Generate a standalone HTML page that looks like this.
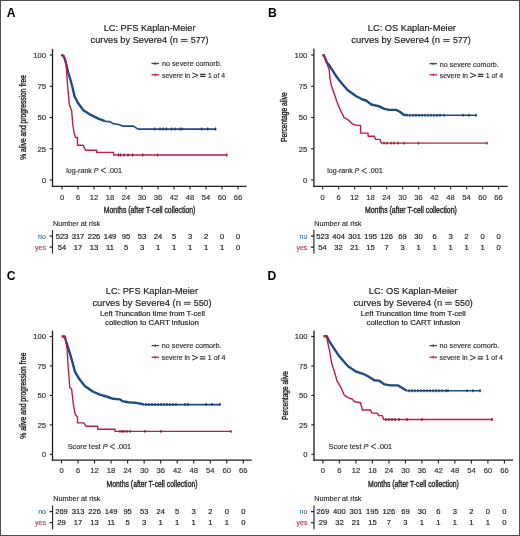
<!DOCTYPE html>
<html><head><meta charset="utf-8"><style>
html,body{margin:0;padding:0;background:#fff;}
body{width:520px;height:536px;overflow:hidden;}
svg{display:block;font-family:"Liberation Sans", sans-serif;will-change:transform;}
</style></head><body>
<svg width="520" height="536" viewBox="0 0 520 536">
<rect x="0" y="0" width="520" height="536" fill="#fff"/>
<text x="6.80" y="16.60" font-size="12.2" text-anchor="start" fill="#000" font-weight="bold">A</text>
<text x="149.62" y="31.40" font-size="9.4" text-anchor="middle" fill="#222" font-weight="normal" textLength="91.75" lengthAdjust="spacingAndGlyphs" stroke="#222" stroke-width="0.18">LC: PFS Kaplan-Meier</text>
<text x="90.60" y="43.00" font-size="9.4" text-anchor="start" fill="#222" font-weight="normal" textLength="87.30" lengthAdjust="spacingAndGlyphs" stroke="#222" stroke-width="0.18">curves by Severe4 (n</text>
<path d="M180.90,39.55 H187.50 M180.90,41.40 H187.50" stroke="#2a2a2a" stroke-width="0.9" fill="none"/>
<text x="190.70" y="43.00" font-size="9.4" text-anchor="start" fill="#222" font-weight="normal" textLength="17.80" lengthAdjust="spacingAndGlyphs" stroke="#222" stroke-width="0.18">577)</text>
<line x1="52.50" y1="48.80" x2="52.50" y2="186.90" stroke="#1e1e1e" stroke-width="1.3"/>
<line x1="51.90" y1="186.30" x2="246.50" y2="186.30" stroke="#1e1e1e" stroke-width="1.3"/>
<line x1="49.70" y1="180.00" x2="52.50" y2="180.00" stroke="#1e1e1e" stroke-width="1.1"/>
<text x="46.00" y="182.75" font-size="7.7" text-anchor="end" fill="#333" font-weight="normal" stroke="#333" stroke-width="0.18">0</text>
<line x1="49.70" y1="148.75" x2="52.50" y2="148.75" stroke="#1e1e1e" stroke-width="1.1"/>
<text x="46.00" y="151.50" font-size="7.7" text-anchor="end" fill="#333" font-weight="normal" stroke="#333" stroke-width="0.18">25</text>
<line x1="49.70" y1="117.50" x2="52.50" y2="117.50" stroke="#1e1e1e" stroke-width="1.1"/>
<text x="46.00" y="120.25" font-size="7.7" text-anchor="end" fill="#333" font-weight="normal" stroke="#333" stroke-width="0.18">50</text>
<line x1="49.70" y1="86.25" x2="52.50" y2="86.25" stroke="#1e1e1e" stroke-width="1.1"/>
<text x="46.00" y="89.00" font-size="7.7" text-anchor="end" fill="#333" font-weight="normal" stroke="#333" stroke-width="0.18">75</text>
<line x1="49.70" y1="55.00" x2="52.50" y2="55.00" stroke="#1e1e1e" stroke-width="1.1"/>
<text x="46.00" y="57.75" font-size="7.7" text-anchor="end" fill="#333" font-weight="normal" stroke="#333" stroke-width="0.18">100</text>
<line x1="62.00" y1="186.30" x2="62.00" y2="189.50" stroke="#1e1e1e" stroke-width="1.1"/>
<text x="62.00" y="199.60" font-size="7.6" text-anchor="middle" fill="#333" font-weight="normal" stroke="#333" stroke-width="0.18">0</text>
<line x1="78.00" y1="186.30" x2="78.00" y2="189.50" stroke="#1e1e1e" stroke-width="1.1"/>
<text x="78.00" y="199.60" font-size="7.6" text-anchor="middle" fill="#333" font-weight="normal" stroke="#333" stroke-width="0.18">6</text>
<line x1="94.00" y1="186.30" x2="94.00" y2="189.50" stroke="#1e1e1e" stroke-width="1.1"/>
<text x="94.00" y="199.60" font-size="7.6" text-anchor="middle" fill="#333" font-weight="normal" stroke="#333" stroke-width="0.18">12</text>
<line x1="110.00" y1="186.30" x2="110.00" y2="189.50" stroke="#1e1e1e" stroke-width="1.1"/>
<text x="110.00" y="199.60" font-size="7.6" text-anchor="middle" fill="#333" font-weight="normal" stroke="#333" stroke-width="0.18">18</text>
<line x1="126.00" y1="186.30" x2="126.00" y2="189.50" stroke="#1e1e1e" stroke-width="1.1"/>
<text x="126.00" y="199.60" font-size="7.6" text-anchor="middle" fill="#333" font-weight="normal" stroke="#333" stroke-width="0.18">24</text>
<line x1="142.00" y1="186.30" x2="142.00" y2="189.50" stroke="#1e1e1e" stroke-width="1.1"/>
<text x="142.00" y="199.60" font-size="7.6" text-anchor="middle" fill="#333" font-weight="normal" stroke="#333" stroke-width="0.18">30</text>
<line x1="158.00" y1="186.30" x2="158.00" y2="189.50" stroke="#1e1e1e" stroke-width="1.1"/>
<text x="158.00" y="199.60" font-size="7.6" text-anchor="middle" fill="#333" font-weight="normal" stroke="#333" stroke-width="0.18">36</text>
<line x1="174.00" y1="186.30" x2="174.00" y2="189.50" stroke="#1e1e1e" stroke-width="1.1"/>
<text x="174.00" y="199.60" font-size="7.6" text-anchor="middle" fill="#333" font-weight="normal" stroke="#333" stroke-width="0.18">42</text>
<line x1="190.00" y1="186.30" x2="190.00" y2="189.50" stroke="#1e1e1e" stroke-width="1.1"/>
<text x="190.00" y="199.60" font-size="7.6" text-anchor="middle" fill="#333" font-weight="normal" stroke="#333" stroke-width="0.18">48</text>
<line x1="206.00" y1="186.30" x2="206.00" y2="189.50" stroke="#1e1e1e" stroke-width="1.1"/>
<text x="206.00" y="199.60" font-size="7.6" text-anchor="middle" fill="#333" font-weight="normal" stroke="#333" stroke-width="0.18">54</text>
<line x1="222.00" y1="186.30" x2="222.00" y2="189.50" stroke="#1e1e1e" stroke-width="1.1"/>
<text x="222.00" y="199.60" font-size="7.6" text-anchor="middle" fill="#333" font-weight="normal" stroke="#333" stroke-width="0.18">60</text>
<line x1="238.00" y1="186.30" x2="238.00" y2="189.50" stroke="#1e1e1e" stroke-width="1.1"/>
<text x="238.00" y="199.60" font-size="7.6" text-anchor="middle" fill="#333" font-weight="normal" stroke="#333" stroke-width="0.18">66</text>
<text x="149.60" y="213.10" font-size="9.5" text-anchor="middle" fill="#222" font-weight="normal" textLength="91.60" lengthAdjust="spacingAndGlyphs" stroke="#222" stroke-width="0.38">Months (after T-cell collection)</text>
<g transform="translate(26.30,117.45) rotate(-90)">
<text x="0.00" y="0.00" font-size="9.2" text-anchor="middle" fill="#222" font-weight="normal" textLength="84.70" lengthAdjust="spacingAndGlyphs" stroke="#222" stroke-width="0.38">% alive and progression free</text>
</g>
<line x1="151.50" y1="63.50" x2="159.00" y2="63.50" stroke="#1d4b82" stroke-width="1.3"/>
<line x1="155.25" y1="62.30" x2="155.25" y2="64.90" stroke="#1d4b82" stroke-width="1"/>
<line x1="151.50" y1="74.80" x2="159.00" y2="74.80" stroke="#c41a40" stroke-width="1.3"/>
<line x1="155.25" y1="73.60" x2="155.25" y2="76.20" stroke="#c41a40" stroke-width="1"/>
<text x="162.00" y="66.35" font-size="7.4" text-anchor="start" fill="#333" font-weight="normal" textLength="59.70" lengthAdjust="spacingAndGlyphs" stroke="#333" stroke-width="0.18">no severe comorb.</text>
<text x="162.00" y="77.90" font-size="7.4" text-anchor="start" fill="#333" font-weight="normal" textLength="28.10" lengthAdjust="spacingAndGlyphs" stroke="#333" stroke-width="0.18">severe in</text>
<path d="M192.30,72.90 L198.00,75.30 L192.30,77.70" fill="none" stroke="#333" stroke-width="1.0"/>
<path d="M200.00,74.30 H205.50 M200.00,76.40 H205.50" fill="none" stroke="#333" stroke-width="1.15"/>
<text x="207.90" y="77.90" font-size="7.4" text-anchor="start" fill="#333" font-weight="normal" textLength="17.10" lengthAdjust="spacingAndGlyphs" stroke="#333" stroke-width="0.18">1 of 4</text>
<text x="66.30" y="173.00" font-size="7.4" fill="#333" stroke="#333" stroke-width="0.18" textLength="32.30" lengthAdjust="spacingAndGlyphs">log-rank <tspan font-style="italic">P</tspan></text>
<path d="M105.90,167.80 L101.10,170.40 L105.90,172.90" fill="none" stroke="#333" stroke-width="0.95"/>
<text x="108.10" y="173.00" font-size="7.4" text-anchor="start" fill="#333" font-weight="normal" textLength="14.00" lengthAdjust="spacingAndGlyphs" stroke="#333" stroke-width="0.18">.001</text>
<path d="M61.40,54.70 L63.70,56.10 L65.30,60.30 L66.30,64.50 L68.30,73.00 L70.30,79.30 L72.60,87.80 L74.50,96.20 L77.80,102.70 L83.40,110.20 L90.80,114.90 L98.30,118.60 L105.00,121.20" fill="none" stroke="#1d4b82" stroke-width="2.4" stroke-linejoin="round"/>
<path d="M105.00,121.20 L110.40,121.90 L113.10,123.60 L118.50,124.50 L122.50,126.10 L133.30,126.10 L138.00,129.10 L216.40,129.10" fill="none" stroke="#1d4b82" stroke-width="1.6" stroke-linejoin="round"/>
<path d="M154.80,127.60V130.60M160.00,127.60V130.60M163.00,127.60V130.60M166.50,127.60V130.60M171.50,127.60V130.60M175.00,127.60V130.60M180.00,127.60V130.60M182.00,127.60V130.60M201.60,127.60V130.60M207.70,127.60V130.60M215.50,127.60V130.60" stroke="#153c6c" stroke-width="1.2"/>
<path d="M61.40,54.70 L63.70,56.10 L65.30,60.30 L66.30,64.50 L66.80,75.00 L67.90,88.70 L69.30,104.60 L71.70,111.10 L72.80,125.00 L74.10,132.70 L75.60,137.50 L77.50,137.50 L77.50,145.20 L83.30,145.20 L84.20,147.60 L85.70,150.20 L96.70,150.20 L96.70,152.40 L113.60,152.40 L113.60,155.00 L227.20,155.00" fill="none" stroke="#c41a40" stroke-width="1.4" stroke-linejoin="round"/>
<path d="M118.50,153.60V156.40M120.50,153.60V156.40M124.00,153.60V156.40M128.00,153.60V156.40M132.60,153.60V156.40M142.70,153.60V156.40M157.50,153.60V156.40M226.80,153.60V156.40" stroke="#8e1030" stroke-width="1.2"/>
<text x="52.90" y="226.00" font-size="7.4" text-anchor="start" fill="#333" font-weight="normal" textLength="47.30" lengthAdjust="spacingAndGlyphs" stroke="#333" stroke-width="0.18">Number at risk</text>
<line x1="52.50" y1="230.10" x2="52.50" y2="253.60" stroke="#1e1e1e" stroke-width="1.1"/>
<line x1="49.50" y1="236.10" x2="52.50" y2="236.10" stroke="#1e1e1e" stroke-width="1.2"/>
<line x1="49.50" y1="247.10" x2="52.50" y2="247.10" stroke="#1e1e1e" stroke-width="1.2"/>
<text x="45.90" y="238.60" font-size="7.0" text-anchor="end" fill="#4a6ea8" font-weight="normal" stroke="#4a6ea8" stroke-width="0.18">no</text>
<text x="45.90" y="249.60" font-size="7.0" text-anchor="end" fill="#c23a5e" font-weight="normal" stroke="#c23a5e" stroke-width="0.18">yes</text>
<text x="62.00" y="238.60" font-size="7.6" text-anchor="middle" fill="#222" font-weight="normal" stroke="#222" stroke-width="0.18">523</text>
<text x="62.00" y="249.60" font-size="7.6" text-anchor="middle" fill="#222" font-weight="normal" stroke="#222" stroke-width="0.18">54</text>
<text x="78.00" y="238.60" font-size="7.6" text-anchor="middle" fill="#222" font-weight="normal" stroke="#222" stroke-width="0.18">317</text>
<text x="78.00" y="249.60" font-size="7.6" text-anchor="middle" fill="#222" font-weight="normal" stroke="#222" stroke-width="0.18">17</text>
<text x="94.00" y="238.60" font-size="7.6" text-anchor="middle" fill="#222" font-weight="normal" stroke="#222" stroke-width="0.18">226</text>
<text x="94.00" y="249.60" font-size="7.6" text-anchor="middle" fill="#222" font-weight="normal" stroke="#222" stroke-width="0.18">13</text>
<text x="110.00" y="238.60" font-size="7.6" text-anchor="middle" fill="#222" font-weight="normal" stroke="#222" stroke-width="0.18">149</text>
<text x="110.00" y="249.60" font-size="7.6" text-anchor="middle" fill="#222" font-weight="normal" stroke="#222" stroke-width="0.18">11</text>
<text x="126.00" y="238.60" font-size="7.6" text-anchor="middle" fill="#222" font-weight="normal" stroke="#222" stroke-width="0.18">95</text>
<text x="126.00" y="249.60" font-size="7.6" text-anchor="middle" fill="#222" font-weight="normal" stroke="#222" stroke-width="0.18">5</text>
<text x="142.00" y="238.60" font-size="7.6" text-anchor="middle" fill="#222" font-weight="normal" stroke="#222" stroke-width="0.18">53</text>
<text x="142.00" y="249.60" font-size="7.6" text-anchor="middle" fill="#222" font-weight="normal" stroke="#222" stroke-width="0.18">3</text>
<text x="158.00" y="238.60" font-size="7.6" text-anchor="middle" fill="#222" font-weight="normal" stroke="#222" stroke-width="0.18">24</text>
<text x="158.00" y="249.60" font-size="7.6" text-anchor="middle" fill="#222" font-weight="normal" stroke="#222" stroke-width="0.18">1</text>
<text x="174.00" y="238.60" font-size="7.6" text-anchor="middle" fill="#222" font-weight="normal" stroke="#222" stroke-width="0.18">5</text>
<text x="174.00" y="249.60" font-size="7.6" text-anchor="middle" fill="#222" font-weight="normal" stroke="#222" stroke-width="0.18">1</text>
<text x="190.00" y="238.60" font-size="7.6" text-anchor="middle" fill="#222" font-weight="normal" stroke="#222" stroke-width="0.18">3</text>
<text x="190.00" y="249.60" font-size="7.6" text-anchor="middle" fill="#222" font-weight="normal" stroke="#222" stroke-width="0.18">1</text>
<text x="206.00" y="238.60" font-size="7.6" text-anchor="middle" fill="#222" font-weight="normal" stroke="#222" stroke-width="0.18">2</text>
<text x="206.00" y="249.60" font-size="7.6" text-anchor="middle" fill="#222" font-weight="normal" stroke="#222" stroke-width="0.18">1</text>
<text x="222.00" y="238.60" font-size="7.6" text-anchor="middle" fill="#222" font-weight="normal" stroke="#222" stroke-width="0.18">0</text>
<text x="222.00" y="249.60" font-size="7.6" text-anchor="middle" fill="#222" font-weight="normal" stroke="#222" stroke-width="0.18">1</text>
<text x="238.00" y="238.60" font-size="7.6" text-anchor="middle" fill="#222" font-weight="normal" stroke="#222" stroke-width="0.18">0</text>
<text x="238.00" y="249.60" font-size="7.6" text-anchor="middle" fill="#222" font-weight="normal" stroke="#222" stroke-width="0.18">0</text>
<text x="268.00" y="16.80" font-size="12.2" text-anchor="start" fill="#000" font-weight="bold">B</text>
<text x="411.85" y="31.40" font-size="9.4" text-anchor="middle" fill="#222" font-weight="normal" textLength="88.10" lengthAdjust="spacingAndGlyphs" stroke="#222" stroke-width="0.18">LC: OS Kaplan-Meier</text>
<text x="351.30" y="43.00" font-size="9.4" text-anchor="start" fill="#222" font-weight="normal" textLength="88.80" lengthAdjust="spacingAndGlyphs" stroke="#222" stroke-width="0.18">curves by Severe4 (n</text>
<path d="M443.10,39.55 H449.70 M443.10,41.40 H449.70" stroke="#2a2a2a" stroke-width="0.9" fill="none"/>
<text x="452.90" y="43.00" font-size="9.4" text-anchor="start" fill="#222" font-weight="normal" textLength="17.80" lengthAdjust="spacingAndGlyphs" stroke="#222" stroke-width="0.18">577)</text>
<line x1="313.90" y1="48.80" x2="313.90" y2="186.90" stroke="#1e1e1e" stroke-width="1.3"/>
<line x1="313.30" y1="186.30" x2="507.70" y2="186.30" stroke="#1e1e1e" stroke-width="1.3"/>
<line x1="311.10" y1="180.00" x2="313.90" y2="180.00" stroke="#1e1e1e" stroke-width="1.1"/>
<text x="307.40" y="182.75" font-size="7.7" text-anchor="end" fill="#333" font-weight="normal" stroke="#333" stroke-width="0.18">0</text>
<line x1="311.10" y1="148.75" x2="313.90" y2="148.75" stroke="#1e1e1e" stroke-width="1.1"/>
<text x="307.40" y="151.50" font-size="7.7" text-anchor="end" fill="#333" font-weight="normal" stroke="#333" stroke-width="0.18">25</text>
<line x1="311.10" y1="117.50" x2="313.90" y2="117.50" stroke="#1e1e1e" stroke-width="1.1"/>
<text x="307.40" y="120.25" font-size="7.7" text-anchor="end" fill="#333" font-weight="normal" stroke="#333" stroke-width="0.18">50</text>
<line x1="311.10" y1="86.25" x2="313.90" y2="86.25" stroke="#1e1e1e" stroke-width="1.1"/>
<text x="307.40" y="89.00" font-size="7.7" text-anchor="end" fill="#333" font-weight="normal" stroke="#333" stroke-width="0.18">75</text>
<line x1="311.10" y1="55.00" x2="313.90" y2="55.00" stroke="#1e1e1e" stroke-width="1.1"/>
<text x="307.40" y="57.75" font-size="7.7" text-anchor="end" fill="#333" font-weight="normal" stroke="#333" stroke-width="0.18">100</text>
<line x1="322.60" y1="186.30" x2="322.60" y2="189.50" stroke="#1e1e1e" stroke-width="1.1"/>
<text x="322.60" y="199.60" font-size="7.6" text-anchor="middle" fill="#333" font-weight="normal" stroke="#333" stroke-width="0.18">0</text>
<line x1="338.60" y1="186.30" x2="338.60" y2="189.50" stroke="#1e1e1e" stroke-width="1.1"/>
<text x="338.60" y="199.60" font-size="7.6" text-anchor="middle" fill="#333" font-weight="normal" stroke="#333" stroke-width="0.18">6</text>
<line x1="354.60" y1="186.30" x2="354.60" y2="189.50" stroke="#1e1e1e" stroke-width="1.1"/>
<text x="354.60" y="199.60" font-size="7.6" text-anchor="middle" fill="#333" font-weight="normal" stroke="#333" stroke-width="0.18">12</text>
<line x1="370.60" y1="186.30" x2="370.60" y2="189.50" stroke="#1e1e1e" stroke-width="1.1"/>
<text x="370.60" y="199.60" font-size="7.6" text-anchor="middle" fill="#333" font-weight="normal" stroke="#333" stroke-width="0.18">18</text>
<line x1="386.60" y1="186.30" x2="386.60" y2="189.50" stroke="#1e1e1e" stroke-width="1.1"/>
<text x="386.60" y="199.60" font-size="7.6" text-anchor="middle" fill="#333" font-weight="normal" stroke="#333" stroke-width="0.18">24</text>
<line x1="402.60" y1="186.30" x2="402.60" y2="189.50" stroke="#1e1e1e" stroke-width="1.1"/>
<text x="402.60" y="199.60" font-size="7.6" text-anchor="middle" fill="#333" font-weight="normal" stroke="#333" stroke-width="0.18">30</text>
<line x1="418.60" y1="186.30" x2="418.60" y2="189.50" stroke="#1e1e1e" stroke-width="1.1"/>
<text x="418.60" y="199.60" font-size="7.6" text-anchor="middle" fill="#333" font-weight="normal" stroke="#333" stroke-width="0.18">36</text>
<line x1="434.60" y1="186.30" x2="434.60" y2="189.50" stroke="#1e1e1e" stroke-width="1.1"/>
<text x="434.60" y="199.60" font-size="7.6" text-anchor="middle" fill="#333" font-weight="normal" stroke="#333" stroke-width="0.18">42</text>
<line x1="450.60" y1="186.30" x2="450.60" y2="189.50" stroke="#1e1e1e" stroke-width="1.1"/>
<text x="450.60" y="199.60" font-size="7.6" text-anchor="middle" fill="#333" font-weight="normal" stroke="#333" stroke-width="0.18">48</text>
<line x1="466.60" y1="186.30" x2="466.60" y2="189.50" stroke="#1e1e1e" stroke-width="1.1"/>
<text x="466.60" y="199.60" font-size="7.6" text-anchor="middle" fill="#333" font-weight="normal" stroke="#333" stroke-width="0.18">54</text>
<line x1="482.60" y1="186.30" x2="482.60" y2="189.50" stroke="#1e1e1e" stroke-width="1.1"/>
<text x="482.60" y="199.60" font-size="7.6" text-anchor="middle" fill="#333" font-weight="normal" stroke="#333" stroke-width="0.18">60</text>
<line x1="498.60" y1="186.30" x2="498.60" y2="189.50" stroke="#1e1e1e" stroke-width="1.1"/>
<text x="498.60" y="199.60" font-size="7.6" text-anchor="middle" fill="#333" font-weight="normal" stroke="#333" stroke-width="0.18">66</text>
<text x="410.90" y="213.10" font-size="9.5" text-anchor="middle" fill="#222" font-weight="normal" textLength="91.80" lengthAdjust="spacingAndGlyphs" stroke="#222" stroke-width="0.38">Months (after T-cell collection)</text>
<g transform="translate(287.10,117.15) rotate(-90)">
<text x="0.00" y="0.00" font-size="9.2" text-anchor="middle" fill="#222" font-weight="normal" textLength="49.70" lengthAdjust="spacingAndGlyphs" stroke="#222" stroke-width="0.38">Percentage alive</text>
</g>
<line x1="429.50" y1="63.70" x2="437.00" y2="63.70" stroke="#1d4b82" stroke-width="1.3"/>
<line x1="433.25" y1="62.50" x2="433.25" y2="65.10" stroke="#1d4b82" stroke-width="1"/>
<line x1="429.50" y1="74.80" x2="437.00" y2="74.80" stroke="#c41a40" stroke-width="1.3"/>
<line x1="433.25" y1="73.60" x2="433.25" y2="76.20" stroke="#c41a40" stroke-width="1"/>
<text x="439.80" y="66.55" font-size="7.4" text-anchor="start" fill="#333" font-weight="normal" textLength="59.00" lengthAdjust="spacingAndGlyphs" stroke="#333" stroke-width="0.18">no severe comorb.</text>
<text x="439.80" y="77.90" font-size="7.4" text-anchor="start" fill="#333" font-weight="normal" textLength="28.10" lengthAdjust="spacingAndGlyphs" stroke="#333" stroke-width="0.18">severe in</text>
<path d="M470.10,72.90 L475.80,75.30 L470.10,77.70" fill="none" stroke="#333" stroke-width="1.0"/>
<path d="M477.80,74.30 H483.30 M477.80,76.40 H483.30" fill="none" stroke="#333" stroke-width="1.15"/>
<text x="485.70" y="77.90" font-size="7.4" text-anchor="start" fill="#333" font-weight="normal" textLength="17.30" lengthAdjust="spacingAndGlyphs" stroke="#333" stroke-width="0.18">1 of 4</text>
<text x="327.30" y="173.30" font-size="7.4" fill="#333" stroke="#333" stroke-width="0.18" textLength="32.00" lengthAdjust="spacingAndGlyphs">log-rank <tspan font-style="italic">P</tspan></text>
<path d="M366.60,168.10 L361.80,170.70 L366.60,173.20" fill="none" stroke="#333" stroke-width="0.95"/>
<text x="368.80" y="173.30" font-size="7.4" text-anchor="start" fill="#333" font-weight="normal" textLength="14.00" lengthAdjust="spacingAndGlyphs" stroke="#333" stroke-width="0.18">.001</text>
<path d="M322.50,55.00 L324.00,55.50 L326.90,62.50 L330.00,66.30 L336.30,76.30 L340.00,81.30 L347.50,90.00 L356.30,96.30 L362.50,99.50 L366.00,100.50 L371.30,104.50 L378.70,106.10 L384.40,108.90 L389.20,109.90 L396.00,109.90 L399.80,111.80 L403.70,114.70 L408.50,115.30" fill="none" stroke="#1d4b82" stroke-width="2.4" stroke-linejoin="round"/>
<path d="M408.50,115.30 L476.70,115.30" fill="none" stroke="#1d4b82" stroke-width="1.6" stroke-linejoin="round"/>
<path d="M410.00,113.80V116.80M413.00,113.80V116.80M416.00,113.80V116.80M419.00,113.80V116.80M422.00,113.80V116.80M425.00,113.80V116.80M428.00,113.80V116.80M431.00,113.80V116.80M434.00,113.80V116.80M437.00,113.80V116.80M440.00,113.80V116.80M444.00,113.80V116.80M463.00,113.80V116.80M469.00,113.80V116.80M476.00,113.80V116.80" stroke="#153c6c" stroke-width="1.2"/>
<path d="M322.50,55.00 L324.00,55.50 L326.50,62.80 L329.20,69.40 L329.80,77.20 L331.10,85.00 L334.40,94.20 L337.00,102.00 L340.30,109.90 L344.20,117.70 L348.80,120.40 L352.00,123.60 L355.00,125.00 L360.60,125.60 L360.60,133.10 L368.10,133.10 L368.10,136.30 L374.40,136.30 L375.60,139.40 L380.00,139.40 L381.30,143.10 L487.30,143.10" fill="none" stroke="#c41a40" stroke-width="1.4" stroke-linejoin="round"/>
<path d="M384.00,141.70V144.50M387.00,141.70V144.50M391.00,141.70V144.50M394.00,141.70V144.50M398.00,141.70V144.50M404.00,141.70V144.50M418.50,141.70V144.50M487.00,141.70V144.50" stroke="#8e1030" stroke-width="1.2"/>
<text x="314.20" y="226.00" font-size="7.4" text-anchor="start" fill="#333" font-weight="normal" textLength="47.30" lengthAdjust="spacingAndGlyphs" stroke="#333" stroke-width="0.18">Number at risk</text>
<line x1="313.90" y1="230.10" x2="313.90" y2="253.60" stroke="#1e1e1e" stroke-width="1.1"/>
<line x1="310.90" y1="236.10" x2="313.90" y2="236.10" stroke="#1e1e1e" stroke-width="1.2"/>
<line x1="310.90" y1="247.10" x2="313.90" y2="247.10" stroke="#1e1e1e" stroke-width="1.2"/>
<text x="307.30" y="238.60" font-size="7.0" text-anchor="end" fill="#4a6ea8" font-weight="normal" stroke="#4a6ea8" stroke-width="0.18">no</text>
<text x="307.30" y="249.60" font-size="7.0" text-anchor="end" fill="#c23a5e" font-weight="normal" stroke="#c23a5e" stroke-width="0.18">yes</text>
<text x="322.60" y="238.60" font-size="7.6" text-anchor="middle" fill="#222" font-weight="normal" stroke="#222" stroke-width="0.18">523</text>
<text x="322.60" y="249.60" font-size="7.6" text-anchor="middle" fill="#222" font-weight="normal" stroke="#222" stroke-width="0.18">54</text>
<text x="338.60" y="238.60" font-size="7.6" text-anchor="middle" fill="#222" font-weight="normal" stroke="#222" stroke-width="0.18">404</text>
<text x="338.60" y="249.60" font-size="7.6" text-anchor="middle" fill="#222" font-weight="normal" stroke="#222" stroke-width="0.18">32</text>
<text x="354.60" y="238.60" font-size="7.6" text-anchor="middle" fill="#222" font-weight="normal" stroke="#222" stroke-width="0.18">301</text>
<text x="354.60" y="249.60" font-size="7.6" text-anchor="middle" fill="#222" font-weight="normal" stroke="#222" stroke-width="0.18">21</text>
<text x="370.60" y="238.60" font-size="7.6" text-anchor="middle" fill="#222" font-weight="normal" stroke="#222" stroke-width="0.18">195</text>
<text x="370.60" y="249.60" font-size="7.6" text-anchor="middle" fill="#222" font-weight="normal" stroke="#222" stroke-width="0.18">15</text>
<text x="386.60" y="238.60" font-size="7.6" text-anchor="middle" fill="#222" font-weight="normal" stroke="#222" stroke-width="0.18">126</text>
<text x="386.60" y="249.60" font-size="7.6" text-anchor="middle" fill="#222" font-weight="normal" stroke="#222" stroke-width="0.18">7</text>
<text x="402.60" y="238.60" font-size="7.6" text-anchor="middle" fill="#222" font-weight="normal" stroke="#222" stroke-width="0.18">69</text>
<text x="402.60" y="249.60" font-size="7.6" text-anchor="middle" fill="#222" font-weight="normal" stroke="#222" stroke-width="0.18">3</text>
<text x="418.60" y="238.60" font-size="7.6" text-anchor="middle" fill="#222" font-weight="normal" stroke="#222" stroke-width="0.18">30</text>
<text x="418.60" y="249.60" font-size="7.6" text-anchor="middle" fill="#222" font-weight="normal" stroke="#222" stroke-width="0.18">1</text>
<text x="434.60" y="238.60" font-size="7.6" text-anchor="middle" fill="#222" font-weight="normal" stroke="#222" stroke-width="0.18">6</text>
<text x="434.60" y="249.60" font-size="7.6" text-anchor="middle" fill="#222" font-weight="normal" stroke="#222" stroke-width="0.18">1</text>
<text x="450.60" y="238.60" font-size="7.6" text-anchor="middle" fill="#222" font-weight="normal" stroke="#222" stroke-width="0.18">3</text>
<text x="450.60" y="249.60" font-size="7.6" text-anchor="middle" fill="#222" font-weight="normal" stroke="#222" stroke-width="0.18">1</text>
<text x="466.60" y="238.60" font-size="7.6" text-anchor="middle" fill="#222" font-weight="normal" stroke="#222" stroke-width="0.18">2</text>
<text x="466.60" y="249.60" font-size="7.6" text-anchor="middle" fill="#222" font-weight="normal" stroke="#222" stroke-width="0.18">1</text>
<text x="482.60" y="238.60" font-size="7.6" text-anchor="middle" fill="#222" font-weight="normal" stroke="#222" stroke-width="0.18">0</text>
<text x="482.60" y="249.60" font-size="7.6" text-anchor="middle" fill="#222" font-weight="normal" stroke="#222" stroke-width="0.18">1</text>
<text x="498.60" y="238.60" font-size="7.6" text-anchor="middle" fill="#222" font-weight="normal" stroke="#222" stroke-width="0.18">0</text>
<text x="498.60" y="249.60" font-size="7.6" text-anchor="middle" fill="#222" font-weight="normal" stroke="#222" stroke-width="0.18">0</text>
<text x="6.80" y="279.80" font-size="12.2" text-anchor="start" fill="#000" font-weight="bold">C</text>
<text x="151.90" y="294.00" font-size="9.4" text-anchor="middle" fill="#222" font-weight="normal" textLength="92.20" lengthAdjust="spacingAndGlyphs" stroke="#222" stroke-width="0.18">LC: PFS Kaplan-Meier</text>
<text x="92.40" y="305.80" font-size="9.4" text-anchor="start" fill="#222" font-weight="normal" textLength="88.50" lengthAdjust="spacingAndGlyphs" stroke="#222" stroke-width="0.18">curves by Severe4 (n</text>
<path d="M183.90,302.35 H190.50 M183.90,304.20 H190.50" stroke="#2a2a2a" stroke-width="0.9" fill="none"/>
<text x="193.70" y="305.80" font-size="9.4" text-anchor="start" fill="#222" font-weight="normal" textLength="17.80" lengthAdjust="spacingAndGlyphs" stroke="#222" stroke-width="0.18">550)</text>
<text x="152.40" y="315.80" font-size="7.6" text-anchor="middle" fill="#222" font-weight="normal" textLength="105.00" lengthAdjust="spacingAndGlyphs" stroke="#222" stroke-width="0.18">Left Truncation time from T-cell</text>
<text x="151.95" y="325.10" font-size="7.6" text-anchor="middle" fill="#222" font-weight="normal" textLength="93.90" lengthAdjust="spacingAndGlyphs" stroke="#222" stroke-width="0.18">collection to CART infusion</text>
<line x1="52.50" y1="330.60" x2="52.50" y2="460.80" stroke="#1e1e1e" stroke-width="1.3"/>
<line x1="51.90" y1="460.20" x2="251.70" y2="460.20" stroke="#1e1e1e" stroke-width="1.3"/>
<line x1="49.70" y1="454.30" x2="52.50" y2="454.30" stroke="#1e1e1e" stroke-width="1.1"/>
<text x="46.00" y="457.05" font-size="7.7" text-anchor="end" fill="#333" font-weight="normal" stroke="#333" stroke-width="0.18">0</text>
<line x1="49.70" y1="424.85" x2="52.50" y2="424.85" stroke="#1e1e1e" stroke-width="1.1"/>
<text x="46.00" y="427.60" font-size="7.7" text-anchor="end" fill="#333" font-weight="normal" stroke="#333" stroke-width="0.18">25</text>
<line x1="49.70" y1="395.40" x2="52.50" y2="395.40" stroke="#1e1e1e" stroke-width="1.1"/>
<text x="46.00" y="398.15" font-size="7.7" text-anchor="end" fill="#333" font-weight="normal" stroke="#333" stroke-width="0.18">50</text>
<line x1="49.70" y1="365.95" x2="52.50" y2="365.95" stroke="#1e1e1e" stroke-width="1.1"/>
<text x="46.00" y="368.70" font-size="7.7" text-anchor="end" fill="#333" font-weight="normal" stroke="#333" stroke-width="0.18">75</text>
<line x1="49.70" y1="336.50" x2="52.50" y2="336.50" stroke="#1e1e1e" stroke-width="1.1"/>
<text x="46.00" y="339.25" font-size="7.7" text-anchor="end" fill="#333" font-weight="normal" stroke="#333" stroke-width="0.18">100</text>
<line x1="61.50" y1="460.20" x2="61.50" y2="463.40" stroke="#1e1e1e" stroke-width="1.1"/>
<text x="61.50" y="473.30" font-size="7.6" text-anchor="middle" fill="#333" font-weight="normal" stroke="#333" stroke-width="0.18">0</text>
<line x1="78.03" y1="460.20" x2="78.03" y2="463.40" stroke="#1e1e1e" stroke-width="1.1"/>
<text x="78.03" y="473.30" font-size="7.6" text-anchor="middle" fill="#333" font-weight="normal" stroke="#333" stroke-width="0.18">6</text>
<line x1="94.56" y1="460.20" x2="94.56" y2="463.40" stroke="#1e1e1e" stroke-width="1.1"/>
<text x="94.56" y="473.30" font-size="7.6" text-anchor="middle" fill="#333" font-weight="normal" stroke="#333" stroke-width="0.18">12</text>
<line x1="111.09" y1="460.20" x2="111.09" y2="463.40" stroke="#1e1e1e" stroke-width="1.1"/>
<text x="111.09" y="473.30" font-size="7.6" text-anchor="middle" fill="#333" font-weight="normal" stroke="#333" stroke-width="0.18">18</text>
<line x1="127.62" y1="460.20" x2="127.62" y2="463.40" stroke="#1e1e1e" stroke-width="1.1"/>
<text x="127.62" y="473.30" font-size="7.6" text-anchor="middle" fill="#333" font-weight="normal" stroke="#333" stroke-width="0.18">24</text>
<line x1="144.15" y1="460.20" x2="144.15" y2="463.40" stroke="#1e1e1e" stroke-width="1.1"/>
<text x="144.15" y="473.30" font-size="7.6" text-anchor="middle" fill="#333" font-weight="normal" stroke="#333" stroke-width="0.18">30</text>
<line x1="160.68" y1="460.20" x2="160.68" y2="463.40" stroke="#1e1e1e" stroke-width="1.1"/>
<text x="160.68" y="473.30" font-size="7.6" text-anchor="middle" fill="#333" font-weight="normal" stroke="#333" stroke-width="0.18">36</text>
<line x1="177.21" y1="460.20" x2="177.21" y2="463.40" stroke="#1e1e1e" stroke-width="1.1"/>
<text x="177.21" y="473.30" font-size="7.6" text-anchor="middle" fill="#333" font-weight="normal" stroke="#333" stroke-width="0.18">42</text>
<line x1="193.74" y1="460.20" x2="193.74" y2="463.40" stroke="#1e1e1e" stroke-width="1.1"/>
<text x="193.74" y="473.30" font-size="7.6" text-anchor="middle" fill="#333" font-weight="normal" stroke="#333" stroke-width="0.18">48</text>
<line x1="210.27" y1="460.20" x2="210.27" y2="463.40" stroke="#1e1e1e" stroke-width="1.1"/>
<text x="210.27" y="473.30" font-size="7.6" text-anchor="middle" fill="#333" font-weight="normal" stroke="#333" stroke-width="0.18">54</text>
<line x1="226.80" y1="460.20" x2="226.80" y2="463.40" stroke="#1e1e1e" stroke-width="1.1"/>
<text x="226.80" y="473.30" font-size="7.6" text-anchor="middle" fill="#333" font-weight="normal" stroke="#333" stroke-width="0.18">60</text>
<line x1="243.33" y1="460.20" x2="243.33" y2="463.40" stroke="#1e1e1e" stroke-width="1.1"/>
<text x="243.33" y="473.30" font-size="7.6" text-anchor="middle" fill="#333" font-weight="normal" stroke="#333" stroke-width="0.18">66</text>
<text x="152.05" y="487.20" font-size="9.5" text-anchor="middle" fill="#222" font-weight="normal" textLength="90.90" lengthAdjust="spacingAndGlyphs" stroke="#222" stroke-width="0.38">Months (after T-cell collection)</text>
<g transform="translate(26.30,395.60) rotate(-90)">
<text x="0.00" y="0.00" font-size="9.2" text-anchor="middle" fill="#222" font-weight="normal" textLength="86.20" lengthAdjust="spacingAndGlyphs" stroke="#222" stroke-width="0.38">% alive and progression free</text>
</g>
<line x1="151.60" y1="345.60" x2="159.00" y2="345.60" stroke="#1d4b82" stroke-width="1.3"/>
<line x1="155.30" y1="344.40" x2="155.30" y2="347.00" stroke="#1d4b82" stroke-width="1"/>
<line x1="151.60" y1="357.20" x2="159.00" y2="357.20" stroke="#c41a40" stroke-width="1.3"/>
<line x1="155.30" y1="356.00" x2="155.30" y2="358.60" stroke="#c41a40" stroke-width="1"/>
<text x="161.80" y="348.45" font-size="7.4" text-anchor="start" fill="#333" font-weight="normal" textLength="59.70" lengthAdjust="spacingAndGlyphs" stroke="#333" stroke-width="0.18">no severe comorb.</text>
<text x="161.80" y="360.30" font-size="7.4" text-anchor="start" fill="#333" font-weight="normal" textLength="28.10" lengthAdjust="spacingAndGlyphs" stroke="#333" stroke-width="0.18">severe in</text>
<path d="M192.10,355.30 L197.80,357.70 L192.10,360.10" fill="none" stroke="#333" stroke-width="1.0"/>
<path d="M199.80,356.70 H205.30 M199.80,358.80 H205.30" fill="none" stroke="#333" stroke-width="1.15"/>
<text x="207.70" y="360.30" font-size="7.4" text-anchor="start" fill="#333" font-weight="normal" textLength="17.90" lengthAdjust="spacingAndGlyphs" stroke="#333" stroke-width="0.18">1 of 4</text>
<text x="67.70" y="449.20" font-size="7.4" fill="#333" stroke="#333" stroke-width="0.18" textLength="39.90" lengthAdjust="spacingAndGlyphs">Score test <tspan font-style="italic">P</tspan></text>
<path d="M114.90,444.00 L110.10,446.60 L114.90,449.10" fill="none" stroke="#333" stroke-width="0.95"/>
<text x="117.10" y="449.20" font-size="7.4" text-anchor="start" fill="#333" font-weight="normal" textLength="14.00" lengthAdjust="spacingAndGlyphs" stroke="#333" stroke-width="0.18">.001</text>
<path d="M61.80,336.50 L64.70,336.50 L65.70,340.00 L69.20,351.20 L72.50,362.40 L74.80,371.30 L79.30,379.10 L84.80,385.90 L92.70,391.50 L100.50,394.80 L108.00,397.00 L113.10,398.80 L120.00,399.40 L122.30,401.10 L128.10,402.30 L136.10,402.90 L141.90,404.00 L144.20,404.60" fill="none" stroke="#1d4b82" stroke-width="2.4" stroke-linejoin="round"/>
<path d="M144.20,404.60 L220.40,404.60" fill="none" stroke="#1d4b82" stroke-width="1.6" stroke-linejoin="round"/>
<path d="M146.00,403.10V406.10M149.00,403.10V406.10M152.00,403.10V406.10M155.00,403.10V406.10M158.00,403.10V406.10M161.00,403.10V406.10M164.00,403.10V406.10M167.00,403.10V406.10M170.00,403.10V406.10M173.00,403.10V406.10M176.00,403.10V406.10M185.00,403.10V406.10M188.00,403.10V406.10M206.00,403.10V406.10M212.00,403.10V406.10M220.00,403.10V406.10" stroke="#153c6c" stroke-width="1.2"/>
<path d="M61.80,336.50 L64.70,336.50 L65.70,340.60 L67.10,349.20 L68.10,366.50 L69.30,380.00 L69.70,387.50 L71.60,389.00 L73.10,401.90 L73.50,405.00 L75.20,414.20 L77.50,417.10 L77.50,422.90 L83.80,422.90 L86.10,426.30 L97.70,426.30 L97.70,429.20 L115.00,429.20 L115.00,431.40 L231.10,431.40" fill="none" stroke="#c41a40" stroke-width="1.4" stroke-linejoin="round"/>
<path d="M120.00,430.00V432.80M122.00,430.00V432.80M124.00,430.00V432.80M127.00,430.00V432.80M130.00,430.00V432.80M145.00,430.00V432.80M161.00,430.00V432.80M231.00,430.00V432.80" stroke="#8e1030" stroke-width="1.2"/>
<text x="53.20" y="501.40" font-size="7.4" text-anchor="start" fill="#333" font-weight="normal" textLength="47.30" lengthAdjust="spacingAndGlyphs" stroke="#333" stroke-width="0.18">Number at risk</text>
<line x1="52.60" y1="505.60" x2="52.60" y2="529.20" stroke="#1e1e1e" stroke-width="1.1"/>
<line x1="49.60" y1="511.60" x2="52.60" y2="511.60" stroke="#1e1e1e" stroke-width="1.2"/>
<line x1="49.60" y1="522.70" x2="52.60" y2="522.70" stroke="#1e1e1e" stroke-width="1.2"/>
<text x="46.00" y="514.10" font-size="7.0" text-anchor="end" fill="#4a6ea8" font-weight="normal" stroke="#4a6ea8" stroke-width="0.18">no</text>
<text x="46.00" y="525.20" font-size="7.0" text-anchor="end" fill="#c23a5e" font-weight="normal" stroke="#c23a5e" stroke-width="0.18">yes</text>
<text x="61.50" y="514.10" font-size="7.6" text-anchor="middle" fill="#222" font-weight="normal" stroke="#222" stroke-width="0.18">269</text>
<text x="61.50" y="525.20" font-size="7.6" text-anchor="middle" fill="#222" font-weight="normal" stroke="#222" stroke-width="0.18">29</text>
<text x="78.03" y="514.10" font-size="7.6" text-anchor="middle" fill="#222" font-weight="normal" stroke="#222" stroke-width="0.18">313</text>
<text x="78.03" y="525.20" font-size="7.6" text-anchor="middle" fill="#222" font-weight="normal" stroke="#222" stroke-width="0.18">17</text>
<text x="94.56" y="514.10" font-size="7.6" text-anchor="middle" fill="#222" font-weight="normal" stroke="#222" stroke-width="0.18">226</text>
<text x="94.56" y="525.20" font-size="7.6" text-anchor="middle" fill="#222" font-weight="normal" stroke="#222" stroke-width="0.18">13</text>
<text x="111.09" y="514.10" font-size="7.6" text-anchor="middle" fill="#222" font-weight="normal" stroke="#222" stroke-width="0.18">149</text>
<text x="111.09" y="525.20" font-size="7.6" text-anchor="middle" fill="#222" font-weight="normal" stroke="#222" stroke-width="0.18">11</text>
<text x="127.62" y="514.10" font-size="7.6" text-anchor="middle" fill="#222" font-weight="normal" stroke="#222" stroke-width="0.18">95</text>
<text x="127.62" y="525.20" font-size="7.6" text-anchor="middle" fill="#222" font-weight="normal" stroke="#222" stroke-width="0.18">5</text>
<text x="144.15" y="514.10" font-size="7.6" text-anchor="middle" fill="#222" font-weight="normal" stroke="#222" stroke-width="0.18">53</text>
<text x="144.15" y="525.20" font-size="7.6" text-anchor="middle" fill="#222" font-weight="normal" stroke="#222" stroke-width="0.18">3</text>
<text x="160.68" y="514.10" font-size="7.6" text-anchor="middle" fill="#222" font-weight="normal" stroke="#222" stroke-width="0.18">24</text>
<text x="160.68" y="525.20" font-size="7.6" text-anchor="middle" fill="#222" font-weight="normal" stroke="#222" stroke-width="0.18">1</text>
<text x="177.21" y="514.10" font-size="7.6" text-anchor="middle" fill="#222" font-weight="normal" stroke="#222" stroke-width="0.18">5</text>
<text x="177.21" y="525.20" font-size="7.6" text-anchor="middle" fill="#222" font-weight="normal" stroke="#222" stroke-width="0.18">1</text>
<text x="193.74" y="514.10" font-size="7.6" text-anchor="middle" fill="#222" font-weight="normal" stroke="#222" stroke-width="0.18">3</text>
<text x="193.74" y="525.20" font-size="7.6" text-anchor="middle" fill="#222" font-weight="normal" stroke="#222" stroke-width="0.18">1</text>
<text x="210.27" y="514.10" font-size="7.6" text-anchor="middle" fill="#222" font-weight="normal" stroke="#222" stroke-width="0.18">2</text>
<text x="210.27" y="525.20" font-size="7.6" text-anchor="middle" fill="#222" font-weight="normal" stroke="#222" stroke-width="0.18">1</text>
<text x="226.80" y="514.10" font-size="7.6" text-anchor="middle" fill="#222" font-weight="normal" stroke="#222" stroke-width="0.18">0</text>
<text x="226.80" y="525.20" font-size="7.6" text-anchor="middle" fill="#222" font-weight="normal" stroke="#222" stroke-width="0.18">1</text>
<text x="243.33" y="514.10" font-size="7.6" text-anchor="middle" fill="#222" font-weight="normal" stroke="#222" stroke-width="0.18">0</text>
<text x="243.33" y="525.20" font-size="7.6" text-anchor="middle" fill="#222" font-weight="normal" stroke="#222" stroke-width="0.18">0</text>
<text x="267.60" y="279.60" font-size="12.2" text-anchor="start" fill="#000" font-weight="bold">D</text>
<text x="413.10" y="294.00" font-size="9.4" text-anchor="middle" fill="#222" font-weight="normal" textLength="88.60" lengthAdjust="spacingAndGlyphs" stroke="#222" stroke-width="0.18">LC: OS Kaplan-Meier</text>
<text x="353.50" y="305.80" font-size="9.4" text-anchor="start" fill="#222" font-weight="normal" textLength="88.70" lengthAdjust="spacingAndGlyphs" stroke="#222" stroke-width="0.18">curves by Severe4 (n</text>
<path d="M445.20,302.35 H451.80 M445.20,304.20 H451.80" stroke="#2a2a2a" stroke-width="0.9" fill="none"/>
<text x="455.00" y="305.80" font-size="9.4" text-anchor="start" fill="#222" font-weight="normal" textLength="17.80" lengthAdjust="spacingAndGlyphs" stroke="#222" stroke-width="0.18">550)</text>
<text x="413.25" y="315.80" font-size="7.6" text-anchor="middle" fill="#222" font-weight="normal" textLength="104.90" lengthAdjust="spacingAndGlyphs" stroke="#222" stroke-width="0.18">Left Truncation time from T-cell</text>
<text x="413.50" y="325.10" font-size="7.6" text-anchor="middle" fill="#222" font-weight="normal" textLength="94.00" lengthAdjust="spacingAndGlyphs" stroke="#222" stroke-width="0.18">collection to CART infusion</text>
<line x1="314.00" y1="330.60" x2="314.00" y2="460.80" stroke="#1e1e1e" stroke-width="1.3"/>
<line x1="313.40" y1="460.20" x2="513.00" y2="460.20" stroke="#1e1e1e" stroke-width="1.3"/>
<line x1="311.20" y1="454.30" x2="314.00" y2="454.30" stroke="#1e1e1e" stroke-width="1.1"/>
<text x="307.50" y="457.05" font-size="7.7" text-anchor="end" fill="#333" font-weight="normal" stroke="#333" stroke-width="0.18">0</text>
<line x1="311.20" y1="424.85" x2="314.00" y2="424.85" stroke="#1e1e1e" stroke-width="1.1"/>
<text x="307.50" y="427.60" font-size="7.7" text-anchor="end" fill="#333" font-weight="normal" stroke="#333" stroke-width="0.18">25</text>
<line x1="311.20" y1="395.40" x2="314.00" y2="395.40" stroke="#1e1e1e" stroke-width="1.1"/>
<text x="307.50" y="398.15" font-size="7.7" text-anchor="end" fill="#333" font-weight="normal" stroke="#333" stroke-width="0.18">50</text>
<line x1="311.20" y1="365.95" x2="314.00" y2="365.95" stroke="#1e1e1e" stroke-width="1.1"/>
<text x="307.50" y="368.70" font-size="7.7" text-anchor="end" fill="#333" font-weight="normal" stroke="#333" stroke-width="0.18">75</text>
<line x1="311.20" y1="336.50" x2="314.00" y2="336.50" stroke="#1e1e1e" stroke-width="1.1"/>
<text x="307.50" y="339.25" font-size="7.7" text-anchor="end" fill="#333" font-weight="normal" stroke="#333" stroke-width="0.18">100</text>
<line x1="322.90" y1="460.20" x2="322.90" y2="463.40" stroke="#1e1e1e" stroke-width="1.1"/>
<text x="322.90" y="473.30" font-size="7.6" text-anchor="middle" fill="#333" font-weight="normal" stroke="#333" stroke-width="0.18">0</text>
<line x1="339.40" y1="460.20" x2="339.40" y2="463.40" stroke="#1e1e1e" stroke-width="1.1"/>
<text x="339.40" y="473.30" font-size="7.6" text-anchor="middle" fill="#333" font-weight="normal" stroke="#333" stroke-width="0.18">6</text>
<line x1="355.90" y1="460.20" x2="355.90" y2="463.40" stroke="#1e1e1e" stroke-width="1.1"/>
<text x="355.90" y="473.30" font-size="7.6" text-anchor="middle" fill="#333" font-weight="normal" stroke="#333" stroke-width="0.18">12</text>
<line x1="372.40" y1="460.20" x2="372.40" y2="463.40" stroke="#1e1e1e" stroke-width="1.1"/>
<text x="372.40" y="473.30" font-size="7.6" text-anchor="middle" fill="#333" font-weight="normal" stroke="#333" stroke-width="0.18">18</text>
<line x1="388.90" y1="460.20" x2="388.90" y2="463.40" stroke="#1e1e1e" stroke-width="1.1"/>
<text x="388.90" y="473.30" font-size="7.6" text-anchor="middle" fill="#333" font-weight="normal" stroke="#333" stroke-width="0.18">24</text>
<line x1="405.40" y1="460.20" x2="405.40" y2="463.40" stroke="#1e1e1e" stroke-width="1.1"/>
<text x="405.40" y="473.30" font-size="7.6" text-anchor="middle" fill="#333" font-weight="normal" stroke="#333" stroke-width="0.18">30</text>
<line x1="421.90" y1="460.20" x2="421.90" y2="463.40" stroke="#1e1e1e" stroke-width="1.1"/>
<text x="421.90" y="473.30" font-size="7.6" text-anchor="middle" fill="#333" font-weight="normal" stroke="#333" stroke-width="0.18">36</text>
<line x1="438.40" y1="460.20" x2="438.40" y2="463.40" stroke="#1e1e1e" stroke-width="1.1"/>
<text x="438.40" y="473.30" font-size="7.6" text-anchor="middle" fill="#333" font-weight="normal" stroke="#333" stroke-width="0.18">42</text>
<line x1="454.90" y1="460.20" x2="454.90" y2="463.40" stroke="#1e1e1e" stroke-width="1.1"/>
<text x="454.90" y="473.30" font-size="7.6" text-anchor="middle" fill="#333" font-weight="normal" stroke="#333" stroke-width="0.18">48</text>
<line x1="471.40" y1="460.20" x2="471.40" y2="463.40" stroke="#1e1e1e" stroke-width="1.1"/>
<text x="471.40" y="473.30" font-size="7.6" text-anchor="middle" fill="#333" font-weight="normal" stroke="#333" stroke-width="0.18">54</text>
<line x1="487.90" y1="460.20" x2="487.90" y2="463.40" stroke="#1e1e1e" stroke-width="1.1"/>
<text x="487.90" y="473.30" font-size="7.6" text-anchor="middle" fill="#333" font-weight="normal" stroke="#333" stroke-width="0.18">60</text>
<line x1="504.40" y1="460.20" x2="504.40" y2="463.40" stroke="#1e1e1e" stroke-width="1.1"/>
<text x="504.40" y="473.30" font-size="7.6" text-anchor="middle" fill="#333" font-weight="normal" stroke="#333" stroke-width="0.18">66</text>
<text x="413.45" y="487.20" font-size="9.5" text-anchor="middle" fill="#222" font-weight="normal" textLength="90.90" lengthAdjust="spacingAndGlyphs" stroke="#222" stroke-width="0.38">Months (after T-cell collection)</text>
<g transform="translate(287.80,395.50) rotate(-90)">
<text x="0.00" y="0.00" font-size="9.2" text-anchor="middle" fill="#222" font-weight="normal" textLength="48.90" lengthAdjust="spacingAndGlyphs" stroke="#222" stroke-width="0.38">Percentage alive</text>
</g>
<line x1="429.50" y1="345.60" x2="437.00" y2="345.60" stroke="#1d4b82" stroke-width="1.3"/>
<line x1="433.25" y1="344.40" x2="433.25" y2="347.00" stroke="#1d4b82" stroke-width="1"/>
<line x1="429.50" y1="357.20" x2="437.00" y2="357.20" stroke="#c41a40" stroke-width="1.3"/>
<line x1="433.25" y1="356.00" x2="433.25" y2="358.60" stroke="#c41a40" stroke-width="1"/>
<text x="439.60" y="348.45" font-size="7.4" text-anchor="start" fill="#333" font-weight="normal" textLength="59.70" lengthAdjust="spacingAndGlyphs" stroke="#333" stroke-width="0.18">no severe comorb.</text>
<text x="439.60" y="360.30" font-size="7.4" text-anchor="start" fill="#333" font-weight="normal" textLength="28.10" lengthAdjust="spacingAndGlyphs" stroke="#333" stroke-width="0.18">severe in</text>
<path d="M469.90,355.30 L475.60,357.70 L469.90,360.10" fill="none" stroke="#333" stroke-width="1.0"/>
<path d="M477.60,356.70 H483.10 M477.60,358.80 H483.10" fill="none" stroke="#333" stroke-width="1.15"/>
<text x="485.50" y="360.30" font-size="7.4" text-anchor="start" fill="#333" font-weight="normal" textLength="17.50" lengthAdjust="spacingAndGlyphs" stroke="#333" stroke-width="0.18">1 of 4</text>
<text x="328.60" y="449.00" font-size="7.4" fill="#333" stroke="#333" stroke-width="0.18" textLength="39.90" lengthAdjust="spacingAndGlyphs">Score test <tspan font-style="italic">P</tspan></text>
<path d="M375.80,443.80 L371.00,446.40 L375.80,448.90" fill="none" stroke="#333" stroke-width="0.95"/>
<text x="378.00" y="449.00" font-size="7.4" text-anchor="start" fill="#333" font-weight="normal" textLength="14.00" lengthAdjust="spacingAndGlyphs" stroke="#333" stroke-width="0.18">.001</text>
<path d="M323.60,336.30 L326.80,336.30 L329.30,341.30 L334.30,348.80 L339.30,356.30 L348.00,366.30 L355.50,371.30 L363.00,373.80 L368.00,376.30 L374.30,380.30 L378.80,380.60 L384.60,384.40 L390.40,385.40 L398.10,385.40 L401.90,387.80 L406.70,390.70" fill="none" stroke="#1d4b82" stroke-width="2.4" stroke-linejoin="round"/>
<path d="M406.70,390.70 L480.90,390.70" fill="none" stroke="#1d4b82" stroke-width="1.6" stroke-linejoin="round"/>
<path d="M409.00,389.20V392.20M412.00,389.20V392.20M415.00,389.20V392.20M418.00,389.20V392.20M421.00,389.20V392.20M424.00,389.20V392.20M427.00,389.20V392.20M430.00,389.20V392.20M433.00,389.20V392.20M436.00,389.20V392.20M439.00,389.20V392.20M442.00,389.20V392.20M446.00,389.20V392.20M448.00,389.20V392.20M467.00,389.20V392.20M473.00,389.20V392.20M480.00,389.20V392.20" stroke="#153c6c" stroke-width="1.2"/>
<path d="M323.60,336.30 L326.50,336.30 L327.80,342.80 L329.80,352.00 L331.80,363.80 L334.40,371.60 L337.00,380.80 L340.90,387.30 L344.20,395.10 L348.10,397.70 L352.00,399.00 L354.60,401.70 L360.50,402.50 L362.40,410.00 L370.50,410.00 L371.80,413.10 L377.40,413.10 L378.60,415.60 L382.40,415.60 L383.60,419.50 L492.50,419.50" fill="none" stroke="#c41a40" stroke-width="1.4" stroke-linejoin="round"/>
<path d="M386.00,418.10V420.90M389.00,418.10V420.90M392.00,418.10V420.90M395.00,418.10V420.90M399.00,418.10V420.90M407.00,418.10V420.90M422.00,418.10V420.90M492.00,418.10V420.90" stroke="#8e1030" stroke-width="1.2"/>
<text x="314.20" y="501.40" font-size="7.4" text-anchor="start" fill="#333" font-weight="normal" textLength="47.30" lengthAdjust="spacingAndGlyphs" stroke="#333" stroke-width="0.18">Number at risk</text>
<line x1="314.00" y1="505.60" x2="314.00" y2="529.20" stroke="#1e1e1e" stroke-width="1.1"/>
<line x1="311.00" y1="511.60" x2="314.00" y2="511.60" stroke="#1e1e1e" stroke-width="1.2"/>
<line x1="311.00" y1="522.70" x2="314.00" y2="522.70" stroke="#1e1e1e" stroke-width="1.2"/>
<text x="307.40" y="514.10" font-size="7.0" text-anchor="end" fill="#4a6ea8" font-weight="normal" stroke="#4a6ea8" stroke-width="0.18">no</text>
<text x="307.40" y="525.20" font-size="7.0" text-anchor="end" fill="#c23a5e" font-weight="normal" stroke="#c23a5e" stroke-width="0.18">yes</text>
<text x="322.90" y="514.10" font-size="7.6" text-anchor="middle" fill="#222" font-weight="normal" stroke="#222" stroke-width="0.18">269</text>
<text x="322.90" y="525.20" font-size="7.6" text-anchor="middle" fill="#222" font-weight="normal" stroke="#222" stroke-width="0.18">29</text>
<text x="339.40" y="514.10" font-size="7.6" text-anchor="middle" fill="#222" font-weight="normal" stroke="#222" stroke-width="0.18">400</text>
<text x="339.40" y="525.20" font-size="7.6" text-anchor="middle" fill="#222" font-weight="normal" stroke="#222" stroke-width="0.18">32</text>
<text x="355.90" y="514.10" font-size="7.6" text-anchor="middle" fill="#222" font-weight="normal" stroke="#222" stroke-width="0.18">301</text>
<text x="355.90" y="525.20" font-size="7.6" text-anchor="middle" fill="#222" font-weight="normal" stroke="#222" stroke-width="0.18">21</text>
<text x="372.40" y="514.10" font-size="7.6" text-anchor="middle" fill="#222" font-weight="normal" stroke="#222" stroke-width="0.18">195</text>
<text x="372.40" y="525.20" font-size="7.6" text-anchor="middle" fill="#222" font-weight="normal" stroke="#222" stroke-width="0.18">15</text>
<text x="388.90" y="514.10" font-size="7.6" text-anchor="middle" fill="#222" font-weight="normal" stroke="#222" stroke-width="0.18">126</text>
<text x="388.90" y="525.20" font-size="7.6" text-anchor="middle" fill="#222" font-weight="normal" stroke="#222" stroke-width="0.18">7</text>
<text x="405.40" y="514.10" font-size="7.6" text-anchor="middle" fill="#222" font-weight="normal" stroke="#222" stroke-width="0.18">69</text>
<text x="405.40" y="525.20" font-size="7.6" text-anchor="middle" fill="#222" font-weight="normal" stroke="#222" stroke-width="0.18">3</text>
<text x="421.90" y="514.10" font-size="7.6" text-anchor="middle" fill="#222" font-weight="normal" stroke="#222" stroke-width="0.18">30</text>
<text x="421.90" y="525.20" font-size="7.6" text-anchor="middle" fill="#222" font-weight="normal" stroke="#222" stroke-width="0.18">1</text>
<text x="438.40" y="514.10" font-size="7.6" text-anchor="middle" fill="#222" font-weight="normal" stroke="#222" stroke-width="0.18">6</text>
<text x="438.40" y="525.20" font-size="7.6" text-anchor="middle" fill="#222" font-weight="normal" stroke="#222" stroke-width="0.18">1</text>
<text x="454.90" y="514.10" font-size="7.6" text-anchor="middle" fill="#222" font-weight="normal" stroke="#222" stroke-width="0.18">3</text>
<text x="454.90" y="525.20" font-size="7.6" text-anchor="middle" fill="#222" font-weight="normal" stroke="#222" stroke-width="0.18">1</text>
<text x="471.40" y="514.10" font-size="7.6" text-anchor="middle" fill="#222" font-weight="normal" stroke="#222" stroke-width="0.18">2</text>
<text x="471.40" y="525.20" font-size="7.6" text-anchor="middle" fill="#222" font-weight="normal" stroke="#222" stroke-width="0.18">1</text>
<text x="487.90" y="514.10" font-size="7.6" text-anchor="middle" fill="#222" font-weight="normal" stroke="#222" stroke-width="0.18">0</text>
<text x="487.90" y="525.20" font-size="7.6" text-anchor="middle" fill="#222" font-weight="normal" stroke="#222" stroke-width="0.18">1</text>
<text x="504.40" y="514.10" font-size="7.6" text-anchor="middle" fill="#222" font-weight="normal" stroke="#222" stroke-width="0.18">0</text>
<text x="504.40" y="525.20" font-size="7.6" text-anchor="middle" fill="#222" font-weight="normal" stroke="#222" stroke-width="0.18">0</text>
<rect x="0.5" y="0.5" width="519" height="535" fill="none" stroke="#505050" stroke-width="1"/>
</svg>
</body></html>
